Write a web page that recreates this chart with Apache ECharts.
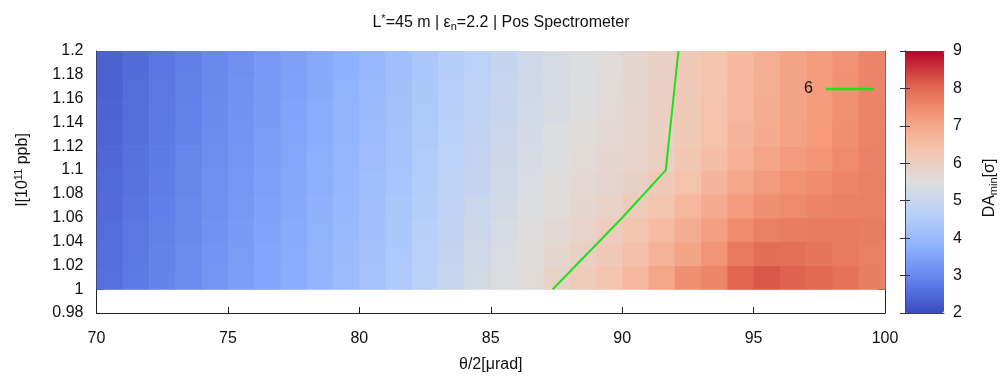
<!DOCTYPE html>
<html>
<head>
<meta charset="utf-8">
<script src="https://cdn.jsdelivr.net/npm/echarts@6/dist/echarts.min.js"></script>
<style>html,body{margin:0;padding:0;background:#fff}#c{width:1002px;height:376px}</style>
</head>
<body>
<div id="c"></div>
<script>
// cell lower-left corners
const thetaBins = [70,71,72,73,74,75,76,77,78,79,80,81,82,83,84,85,86,87,88,89,90,91,92,93,94,95,96,97,98,99];
const intensityBins = [1.00,1.02,1.04,1.06,1.08,1.10,1.12,1.14,1.16,1.18];
const cellW = 1, cellH = 0.02;
// DA_min per intensity row (bottom to top), per theta column
const da100 = [2.60,2.76,2.92,3.08,3.24,3.40,3.55,3.70,3.88,4.06,4.25,4.45,4.68,4.98,5.25,5.42,5.62,5.88,6.10,6.35,6.60,7.00,7.40,7.55,8.05,8.20,8.08,7.97,7.84,7.67];
const da102 = [2.57,2.73,2.89,3.05,3.21,3.37,3.52,3.68,3.85,4.03,4.21,4.41,4.64,4.91,5.18,5.37,5.57,5.75,5.95,6.20,6.45,6.75,7.05,7.34,7.73,7.91,7.90,7.81,7.74,7.66];
const da104 = [2.54,2.70,2.86,3.02,3.18,3.34,3.49,3.65,3.82,4.00,4.18,4.38,4.60,4.85,5.10,5.32,5.52,5.68,5.85,6.05,6.30,6.55,6.85,7.14,7.46,7.64,7.70,7.73,7.73,7.69];
const da106 = [2.51,2.67,2.83,2.99,3.15,3.31,3.46,3.62,3.79,3.97,4.15,4.34,4.56,4.79,5.02,5.25,5.45,5.60,5.75,5.90,6.10,6.35,6.62,6.90,7.22,7.40,7.49,7.58,7.64,7.66];
const da108 = [2.48,2.64,2.80,2.96,3.12,3.28,3.43,3.59,3.76,3.94,4.12,4.31,4.52,4.74,4.95,5.18,5.38,5.55,5.70,5.80,5.95,6.15,6.42,6.68,6.97,7.22,7.37,7.46,7.57,7.64];
const da110 = [2.45,2.61,2.77,2.93,3.09,3.25,3.40,3.56,3.73,3.91,4.09,4.28,4.49,4.70,4.90,5.12,5.32,5.48,5.63,5.75,5.86,6.02,6.28,6.52,6.80,7.02,7.22,7.34,7.48,7.62];
const da112 = [2.42,2.58,2.74,2.90,3.06,3.22,3.37,3.53,3.70,3.88,4.06,4.25,4.45,4.66,4.85,5.06,5.26,5.42,5.57,5.70,5.82,5.98,6.20,6.42,6.68,6.90,7.10,7.26,7.42,7.60];
const da114 = [2.40,2.56,2.72,2.88,3.04,3.19,3.34,3.50,3.67,3.85,4.03,4.22,4.41,4.62,4.80,5.01,5.20,5.36,5.50,5.64,5.78,5.97,6.18,6.40,6.64,6.86,7.07,7.23,7.39,7.59];
const da116 = [2.37,2.54,2.70,2.86,3.02,3.17,3.32,3.47,3.64,3.82,4.00,4.19,4.38,4.58,4.76,4.98,5.17,5.33,5.48,5.62,5.77,5.96,6.16,6.38,6.62,6.84,7.05,7.22,7.38,7.58];
const da118 = [2.35,2.52,2.68,2.84,3.00,3.15,3.30,3.45,3.62,3.80,3.98,4.16,4.35,4.55,4.72,4.95,5.15,5.30,5.45,5.60,5.75,5.95,6.15,6.38,6.60,6.83,7.05,7.22,7.37,7.58];
const daRows = [da100,da102,da104,da106,da108,da110,da112,da114,da116,da118];
// contour DA_min = 6
const contourTheta = [87.36, 90.0, 91.66, 92.14];
const contourI = [1.00, 1.06, 1.10, 1.20];
const cbMin = 2, cbMax = 9;

const cells = [];
intensityBins.forEach((yv, r) => thetaBins.forEach((xv, c) => cells.push([xv, yv, daRows[r][c]])));
const contour = contourTheta.map((t, i) => [t, contourI[i]]);

const FONT = '"Liberation Sans",Arial,sans-serif';
const coolwarm = ['#3b4cc0','#6282ea','#8db0fe','#b8d0f9','#dddddd','#f5c4ad','#f49a7b','#de604d','#b40426'];
const axisCol = '#222';
const txt = '#111';

const chart = echarts.init(document.getElementById('c'), null, {renderer:'canvas'});
chart.setOption({
  backgroundColor:'#fff',
  animation:false,
  textStyle:{fontFamily:FONT},
  title:{
    text:'{t|L}{s|*}{t|=45 m | ε}{b|n}{t|=2.2 | Pos Spectrometer}',
    left:'center', top:8,
    textStyle:{fontWeight:'normal', rich:{
      t:{fontSize:16, fontFamily:FONT, color:txt, fontWeight:'normal'},
      s:{fontSize:11, fontFamily:FONT, color:txt, fontWeight:'normal', verticalAlign:'top', padding:[0,0,8,0]},
      b:{fontSize:11, fontFamily:FONT, color:txt, fontWeight:'normal', verticalAlign:'bottom', padding:[8,0,0,0]}
    }}
  },
  grid:[
    {left:96.5, right:117, top:51, bottom:63, containLabel:false, outerBoundsMode:'none'},
    {left:905, width:39, top:51, height:262, show:false, containLabel:false, outerBoundsMode:'none'}
  ],
  xAxis:[
    {gridIndex:0, type:'value', min:70, max:100, interval:5, position:'bottom',
     name:'θ/2[μrad]', nameLocation:'middle', nameGap:44, nameTextStyle:{fontSize:16, color:txt, fontFamily:FONT},
     axisLine:{lineStyle:{color:axisCol, width:1}}, axisTick:{inside:true, length:6, lineStyle:{color:axisCol}},
     axisLabel:{fontSize:16, color:txt, margin:18, fontFamily:FONT}, splitLine:{show:false}},
    {gridIndex:0, type:'value', min:70, max:100, interval:5, position:'top',
     axisLine:{lineStyle:{color:axisCol, width:1}}, axisTick:{inside:true, length:6, lineStyle:{color:axisCol}},
     axisLabel:{show:false}, splitLine:{show:false}},
    {gridIndex:1, type:'value', min:0, max:1, position:'bottom', z:10,
     axisLine:{show:true, lineStyle:{color:'#444', width:1}}, axisTick:{show:false}, axisLabel:{show:false}, splitLine:{show:false}},
    {gridIndex:1, type:'value', min:0, max:1, position:'top', z:10,
     axisLine:{show:true, lineStyle:{color:'#444', width:1}}, axisTick:{show:false}, axisLabel:{show:false}, splitLine:{show:false}}
  ],
  yAxis:[
    {gridIndex:0, type:'value', min:0.98, max:1.2, interval:0.02, position:'left',
     name:'I[10{u|11} ppb]', nameLocation:'middle', nameGap:64, nameRotate:90,
     nameTextStyle:{fontSize:16, color:txt, fontFamily:FONT, padding:[0,0,0,24],
       rich:{u:{fontSize:11, fontFamily:FONT, color:txt, verticalAlign:'top', padding:[0,0,8,0]}}},
     axisLine:{lineStyle:{color:axisCol, width:1}}, axisTick:{inside:true, length:7, lineStyle:{color:axisCol}},
     axisLabel:{fontSize:16, color:txt, margin:13, fontFamily:FONT,
       formatter:v => String(+v.toFixed(2))}, splitLine:{show:false}},
    {gridIndex:0, type:'value', min:0.98, max:1.2, interval:0.02, position:'right',
     axisLine:{lineStyle:{color:axisCol, width:1}}, axisTick:{inside:true, length:7, lineStyle:{color:axisCol}},
     axisLabel:{show:false}, splitLine:{show:false}},
    {gridIndex:1, type:'value', min:cbMin, max:cbMax, interval:1, position:'right', z:10,
     name:'DA{m|min}[σ]', nameLocation:'middle', nameGap:36, nameRotate:90,
     nameTextStyle:{fontSize:16, color:txt, fontFamily:FONT, padding:[0,12,0,0],
       rich:{m:{fontSize:11, fontFamily:FONT, color:txt, verticalAlign:'bottom', padding:[8,0,0,0]}}},
     axisLine:{show:true, lineStyle:{color:'#444', width:1}}, axisTick:{inside:true, length:5, lineStyle:{color:'#333'}},
     axisLabel:{fontSize:16, color:txt, margin:9, fontFamily:FONT}, splitLine:{show:false}},
    {gridIndex:1, type:'value', min:cbMin, max:cbMax, interval:1, position:'left', z:10,
     axisLine:{show:true, lineStyle:{color:'#444', width:1}}, axisTick:{inside:true, length:5, lineStyle:{color:'#333'}},
     axisLabel:{show:false}, splitLine:{show:false}}
  ],
  visualMap:{
    type:'continuous', min:cbMin, max:cbMax, seriesIndex:0, dimension:2,
    orient:'vertical', left:905, top:51, itemWidth:39, itemHeight:262,
    padding:0, calculable:false, text:null, showLabel:false, hoverLink:false,
    inRange:{color:coolwarm}
  },
  legend:{
    data:['6'], right:123, top:76, align:'right', icon:'rect', itemWidth:48, itemHeight:2.5, itemGap:0,
    textStyle:{fontSize:16, color:txt, fontFamily:FONT, padding:[0,8,0,0]}
  },
  series:[
    {type:'custom', name:'DA', xAxisIndex:0, yAxisIndex:0, data:cells, encode:{x:0, y:1},
     renderItem:(params, api) => {
       const x0 = api.value(0), y0 = api.value(1);
       const p0 = api.coord([x0, y0]);
       const p1 = api.coord([x0 + cellW, y0 + cellH]);
       return {type:'rect', shape:{x:p0[0], y:p1[1], width:p1[0]-p0[0]+0.6, height:p0[1]-p1[1]+0.6},
               style:{fill:api.visual('color')}};
     }, silent:true, z:1},
    {type:'line', name:'6', xAxisIndex:0, yAxisIndex:0, data:contour, symbol:'none',
     lineStyle:{color:'#1ee01e', width:2}, itemStyle:{color:'#1ee01e'}, z:5, silent:true}
  ]
});
</script>
</body>
</html>
